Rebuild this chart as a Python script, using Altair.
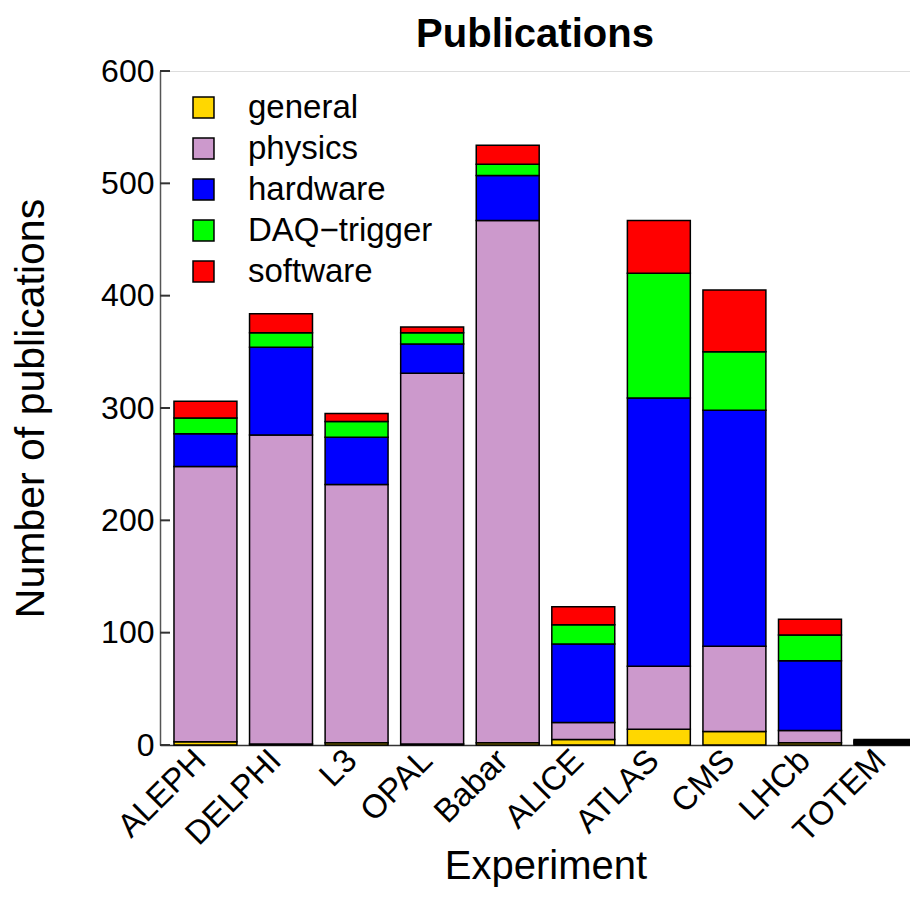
import altair as alt
import pandas as pd

experiments = ["ALEPH", "DELPHI", "L3", "OPAL", "Babar", "ALICE", "ATLAS", "CMS", "LHCb", "TOTEM"]
categories = ["general", "physics", "hardware", "DAQ\u2212trigger", "software"]
colors = ["#FFD700", "#CC99CC", "#0000FF", "#00FF00", "#FF0000"]

general = [3, 1, 2, 1, 2, 5, 14, 12, 2, 1]
physics = [245, 275, 230, 330, 465, 15, 56, 76, 11, 1]
hardware = [29, 78, 42, 26, 40, 70, 239, 210, 62, 1]
daq_trigger = [14, 13, 14, 10, 10, 17, 111, 52, 23, 1]
software = [15, 17, 7, 5, 17, 16, 47, 55, 14, 1]

y_ticks = [0, 100, 200, 300, 400, 500, 600]

series = [general, physics, hardware, daq_trigger, software]
rows = []
for ci, (cat, vals) in enumerate(zip(categories, series)):
    for exp, v in zip(experiments, vals):
        rows.append({"Experiment": exp, "category": cat, "count": v, "order": ci})
df = pd.DataFrame(rows)
ticks_df = pd.DataFrame({"t": y_ticks})

FONT = "Liberation Sans"

bars = alt.Chart(df).mark_bar(stroke="black", strokeWidth=1.5).encode(
    x=alt.X("Experiment:N", sort=experiments,
            scale=alt.Scale(range=[0, 771], paddingInner=0.167, paddingOuter=0.185),
            axis=alt.Axis(title="Experiment", labelAngle=315, labelAlign="right",
                          labelBaseline="middle", labelFontSize=33, titleFontSize=40,
                          titleFontWeight="normal", ticks=False, labelPadding=10,
                          labelOffset=-5, titleY=133, titleBaseline="alphabetic",
                          domainColor="#333333", domainWidth=1.5, labelColor="black",
                          titleColor="black", labelFont=FONT, titleFont=FONT)),
    y=alt.Y("count:Q", stack="zero",
            scale=alt.Scale(domain=[0, 600], nice=False),
            axis=alt.Axis(title="Number of publications", values=y_ticks, ticks=False,
                          grid=False, labelFontSize=32, titleFontSize=41,
                          titleFontWeight="normal", labelPadding=6, titlePadding=48,
                          domainColor="#555555", domainWidth=1.5, labelColor="black",
                          titleColor="black", labelFont=FONT, titleFont=FONT)),
    color=alt.Color("category:N", sort=categories,
                    scale=alt.Scale(domain=categories, range=colors),
                    legend=alt.Legend(title=None, orient="none", legendX=27, legendY=20,
                                      symbolType="square", symbolSize=440,
                                      symbolStrokeColor="black", symbolStrokeWidth=1.5,
                                      labelFontSize=33, labelFont=FONT, labelColor="black",
                                      labelOffset=28, rowPadding=7, labelLimit=0)),
    order=alt.Order("order:Q", sort="ascending"),
)

tick_marks = alt.Chart(ticks_df).mark_rule(color="#333333", strokeWidth=2).encode(
    y=alt.Y("t:Q", scale=alt.Scale(domain=[0, 600], nice=False)),
    x=alt.value(0),
    x2=alt.value(10),
)

chart = alt.layer(bars, tick_marks).properties(
    width=750,
    height=674,
    title=alt.Title("Publications", fontSize=40, fontWeight="bold", font=FONT,
                    color="black", anchor="middle", offset=0),
    autosize=alt.AutoSizeParams(type="none"),
    padding={"left": 152, "top": 63, "right": 0, "bottom": 144},
).configure_view(stroke=None).configure(background="white")

chart.save("out.html", embed_options={"renderer": "svg", "actions": False})
